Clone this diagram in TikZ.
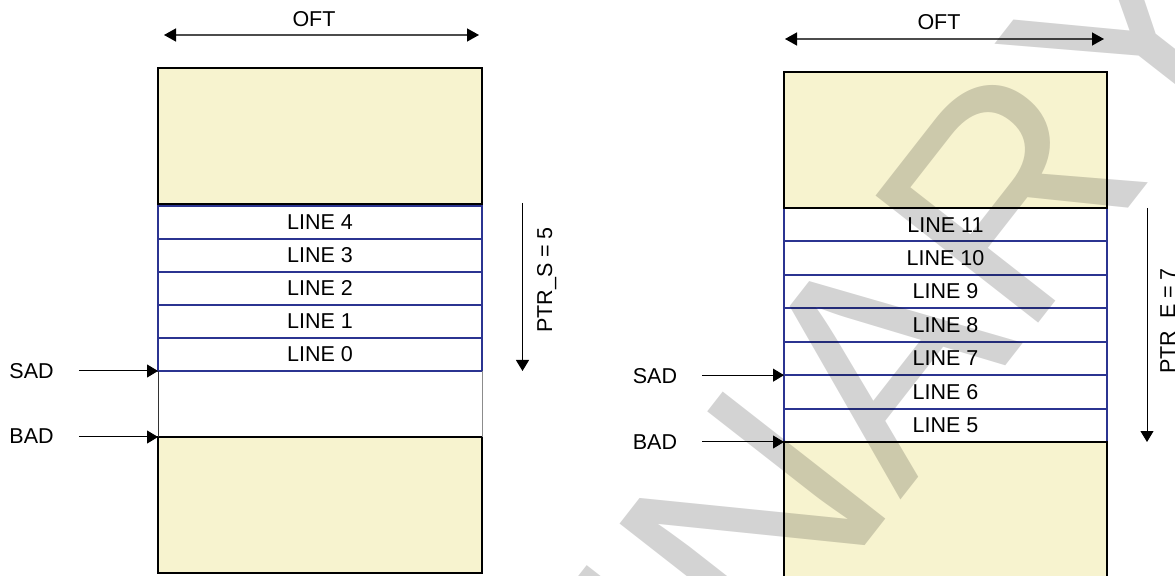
\documentclass[tikz,border=0pt]{standalone}
\usepackage{fontspec}
\setmainfont{Liberation Sans}
\usetikzlibrary{arrows.meta,positioning}
\definecolor{memfill}{RGB}{247,243,207}
\definecolor{lineblue}{RGB}{43,52,145}
\begin{document}
\begin{tikzpicture}[x=0.5pt,y=-0.5pt,font=\fontsize{10.75}{13}\selectfont,
    buf/.style={draw,line width=1.25pt,fill=memfill,inner sep=0pt,outer sep=0pt,anchor=north west},
    row/.style={draw=lineblue,line width=1pt,inner sep=0pt,outer sep=0pt,anchor=north west},
    tip/.style={-{Triangle[length=5.5pt,width=6.5pt]},line width=0.5pt},
    dim/.style={{Triangle[length=6pt,width=6.5pt,color=black]}-{Triangle[length=6pt,width=6.5pt,color=black]},
                line width=0.7pt,draw=black!70}]
   \useasboundingbox (0,0) rectangle (1175,576);
   \clip (0,0) rectangle (1175,576);
   % left buffer
   \foreach \n [count=\i from 0] in {4,3,2,1,0}
     \node[row,minimum width=162pt,minimum height=16.5pt] (lineL\n) at (158,206+33*\i) {LINE \n};
   \node[buf,minimum width=162pt,minimum height=68pt] (topL) at (158,68) {};
   \node[buf,minimum width=162pt,minimum height=68pt] (botL) at (158,437) {};
   \draw[line width=0.5pt,black!80] (lineL0.south west) -- (botL.north west);
   \draw[line width=0.5pt,black!45] (lineL0.south east) -- (botL.north east);
   % right buffer
   \foreach \n [count=\i from 0] in {11,10,...,5}
     \node[row,minimum width=161.5pt,minimum height=16.715pt] (lineR\n) at (784,208+33.43*\i) {LINE \n};
   \node[buf,minimum width=161.5pt,minimum height=68pt] (topR) at (784,72) {};
   \node[buf,minimum width=161.5pt,minimum height=80pt] (botR) at (784,442) {};
   % widths
   \node (oftL) at (314,19) {OFT};
   \node (oftR) at (939,22.5) {OFT};
   \coordinate (oftLa) at (164,35);  \coordinate (oftLb) at (479,35);
   \coordinate (oftRa) at (785,39);  \coordinate (oftRb) at (1104,39);
   \draw[dim] (oftLa) -- (oftLb);
   \draw[dim] (oftRa) -- (oftRb);
   % addresses
   \foreach \s/\t/\x/\y/\e in {sadL/SAD/31.6/371/lineL0.south west,
                              badL/BAD/31.6/436/botL.north west,
                              sadR/SAD/655/376/lineR7.south west,
                              badR/BAD/655/442/botR.north west} {
     \node (\s) at (\x,\y) {\t};
     \coordinate (\s a) at ([xshift=9pt]\s.east |- \e);
     \draw[tip] (\s a) -- (\e);
   }
   % pointers
   \coordinate (ptrSa) at (522.5,203);
   \coordinate (ptrEa) at (1147,208);
   \draw[tip] (ptrSa) -- (ptrSa |- lineL0.south);
   \draw[tip] (ptrEa) -- (ptrEa |- lineR5.south);
   \node[rotate=90,anchor=base,inner sep=0pt] (ptrS) at (552,280) {PTR\_S = 5};
   \node[rotate=90,anchor=base,inner sep=0pt] (ptrE) at (1175,321) {PTR\_E = 7};
   % watermark
   \node[rotate=52,anchor=base west,inner sep=0pt,text=black,text opacity=0.173,
         font=\fontsize{150}{150}\selectfont] (prelim) at (28,1617) {PRELIMINARY};
\end{tikzpicture}
\end{document}
